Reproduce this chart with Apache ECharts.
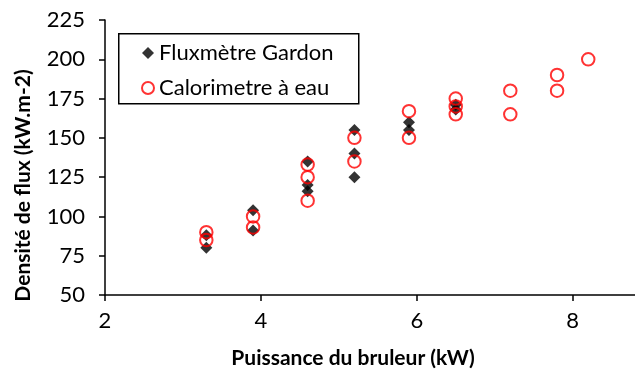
<!DOCTYPE html>
<html>
<head>
<meta charset="utf-8">
<script src="https://cdn.jsdelivr.net/npm/echarts@6/dist/echarts.min.js"></script>
<style>
  html, body { margin: 0; padding: 0; background: #fff; }
  #chart { width: 635px; height: 374px; }
</style>
</head>
<body>
<div id="chart"></div>
<script>
// Burner power (kW) and measured heat flux density (kW.m-2)
const gardonPower = [3.3, 3.3, 3.9, 3.9, 4.6, 4.6, 4.6, 5.2, 5.2, 5.2, 5.9, 5.9, 6.5, 6.5];
const gardonFlux  = [88, 80, 104, 91, 135, 120, 116, 155, 140, 125, 160, 155, 171, 168];

const caloPower = [3.3, 3.3, 3.9, 3.9, 4.6, 4.6, 4.6, 5.2, 5.2, 5.9, 5.9, 6.5, 6.5, 6.5, 7.2, 7.2, 7.8, 7.8, 8.2];
const caloFlux  = [90, 85, 100, 93, 133, 125, 110, 150, 135, 167, 150, 175, 170, 165, 180, 165, 190, 180, 200];

const seriesNames = ['Fluxmètre Gardon', 'Calorimetre à eau'];
const xTitle = 'Puissance du bruleur (kW)';
const yTitle = 'Densité de flux (kW.m-2)';

const FONT = 'Lato, "Open Sans", sans-serif';

function pairs(xs, ys) {
  return xs.map((x, i) => [x, ys[i]]);
}

const chart = echarts.init(document.getElementById('chart'), null, { renderer: 'canvas' });

chart.setOption({
  backgroundColor: '#fff',
  animation: false,
  textStyle: { fontFamily: FONT },
  grid: { left: 105, right: 0, top: 20, bottom: 77 },
  xAxis: {
    type: 'value',
    min: 2,
    max: 8.8,
    interval: 2,
    splitLine: { show: false },
    axisLine: { show: true, onZero: false, lineStyle: { color: '#000', width: 1.5 } },
    axisTick: { show: true, length: 6, lineStyle: { color: '#000', width: 1.5 } },
    axisLabel: { color: '#000', fontSize: 22, margin: 15, fontFamily: FONT, showMaxLabel: false },
    name: xTitle,
    nameLocation: 'middle',
    nameGap: 53,
    nameTextStyle: { color: '#000', fontSize: 21, fontWeight: 'bold', fontFamily: FONT, padding: [0, 34, 0, 0] }
  },
  yAxis: {
    type: 'value',
    min: 50,
    max: 225,
    interval: 25,
    splitLine: { show: false },
    axisLine: { show: true, onZero: false, lineStyle: { color: '#000', width: 1.5 } },
    axisTick: { show: true, length: 6, lineStyle: { color: '#000', width: 1.5 } },
    axisLabel: { color: '#000', fontSize: 22, margin: 20, fontFamily: FONT },
    name: yTitle,
    nameLocation: 'middle',
    nameGap: 71,
    nameRotate: 90,
    nameTextStyle: { color: '#000', fontSize: 21, fontWeight: 'bold', fontFamily: FONT, padding: [0, 56, 0, 0] }
  },
  graphic: [{
    type: 'rect',
    left: 118,
    top: 33,
    z: 90,
    shape: { width: 240, height: 70 },
    style: { fill: '#fff', stroke: '#000', lineWidth: 1.5 }
  }],
  legend: {
    orient: 'vertical',
    left: 141,
    top: 42,
    padding: 0,
    itemGap: 13,
    itemWidth: 12,
    itemHeight: 12,
    itemTextGap: 7,
    z: 100,
    textStyle: { color: '#000', fontSize: 22, lineHeight: 22, fontFamily: FONT },
    data: seriesNames
  },
  series: [
    {
      name: seriesNames[0],
      type: 'scatter',
      symbol: 'diamond',
      symbolSize: 12,
      itemStyle: { color: '#000' },
      data: pairs(gardonPower, gardonFlux)
    },
    {
      name: seriesNames[1],
      type: 'scatter',
      symbol: 'circle',
      symbolSize: 12.5,
      itemStyle: { color: 'rgba(0,0,0,0)', borderColor: '#ff0000', borderWidth: 2 },
      data: pairs(caloPower, caloFlux)
    }
  ]
});
</script>
</body>
</html>
